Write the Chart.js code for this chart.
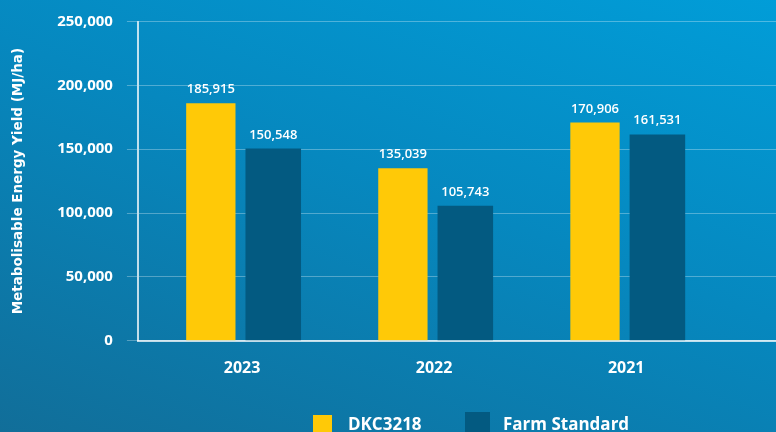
<!DOCTYPE html>
<html>
<head>
<meta charset="utf-8">
<script src="https://cdn.jsdelivr.net/npm/chart.js@4.4.1/dist/chart.umd.min.js"></script>
<style>
  html, body { margin: 0; padding: 0; }
  body {
    width: 776px; height: 432px; overflow: hidden; position: relative;
    background: linear-gradient(200deg, #019dd8 0%, #0688bf 45%, #116e99 100%);
    font-family: "Open Sans", sans-serif;
  }
  #wrap { position: absolute; left: 0; top: 0; width: 776px; height: 432px; }
  .box { position: absolute; }
  .lbl { position: absolute; color: #fff; font-weight: 700; font-size: 17px; white-space: nowrap; }
</style>
</head>
<body>
<div id="wrap"><canvas id="yieldChart"></canvas></div>
<div class="box" style="left:313px; top:415px; width:19px; height:20px; background:#ffc907"></div>
<div class="lbl" style="left:348px; top:412px">DKC3218</div>
<div class="box" style="left:465px; top:412px; width:25px; height:22px; background:#035a81"></div>
<div class="lbl" style="left:503px; top:412px">Farm Standard</div>
<script>
const years = ['2023', '2022', '2021'];
const dkc3218 = [185915, 135039, 170906];
const farmStandard = [150548, 105743, 161531];
const yTicks = [0, 50000, 100000, 150000, 200000, 250000];

const white = '#ffffff';
const font = 'Open Sans';

// value labels above each bar
const barLabels = {
  id: 'barLabels',
  afterDatasetsDraw(chart) {
    const ctx = chart.ctx;
    ctx.save();
    ctx.fillStyle = white;
    ctx.font = '600 13px "Open Sans"';
    ctx.textAlign = 'center';
    ctx.textBaseline = 'alphabetic';
    chart.data.datasets.forEach((ds, i) => {
      chart.getDatasetMeta(i).data.forEach((bar, j) => {
        ctx.fillText(ds.data[j].y.toLocaleString('en-US'), bar.x, bar.y - 10);
      });
    });
    ctx.restore();
  }
};

const toPoints = arr => arr.map((v, i) => ({ x: i, y: v }));

const chartData = {
  datasets: [
    {
      label: 'DKC3218',
      data: toPoints(dkc3218),
      backgroundColor: '#ffc907',
      categoryPercentage: 0.65,
      barPercentage: 0.79,
    },
    {
      label: 'Farm Standard',
      data: toPoints(farmStandard),
      backgroundColor: '#035a81',
      categoryPercentage: 0.65,
      barPercentage: 0.89,
    },
  ],
};

const chartConfig = {
  type: 'bar',
  data: chartData,
  plugins: [barLabels],
  options: {
    responsive: true,
    maintainAspectRatio: false,
    animation: false,
    layout: { padding: { top: 12, right: 0, bottom: 44, left: 0 } },
    plugins: {
      legend: { display: false },
      tooltip: { enabled: false },
    },
    scales: {
      x: {
        type: 'linear',
        offset: false,
        min: -0.542,
        max: 2.78,
        afterBuildTicks: scale => {
          scale.ticks = years.map((y, i) => ({ value: i }));
        },
        ticks: {
          color: white,
          font: { family: font, size: 16, weight: 'bold' },
          padding: 10,
          callback: v => years[v],
        },
        grid: { display: false, offset: false },
        border: { display: true, color: 'rgba(255,255,255,0.75)', width: 2 },
      },
      y: {
        min: 0,
        max: 250000,
        afterBuildTicks: scale => {
          scale.ticks = yTicks.map(v => ({ value: v }));
        },
        ticks: {
          color: white,
          font: { family: font, size: 15, weight: 'bold', lineHeight: 1 },
          padding: 14,
          callback: v => v.toLocaleString('en-US'),
        },
        grid: {
          color: 'rgba(255,255,255,0.3)',
          lineWidth: 1,
          tickLength: 11,
        },
        border: { display: true, color: 'rgba(255,255,255,0.75)', width: 2 },
        title: {
          display: true,
          text: 'Metabolisable Energy Yield (MJ/ha)',
          color: white,
          font: { family: 'DejaVu Sans', size: 13.5, weight: 'bold' },
          padding: { top: 10, bottom: 17 },
        },
      },
    },
  },
};

new Chart(document.getElementById('yieldChart').getContext('2d'), chartConfig);
</script>
</body>
</html>
